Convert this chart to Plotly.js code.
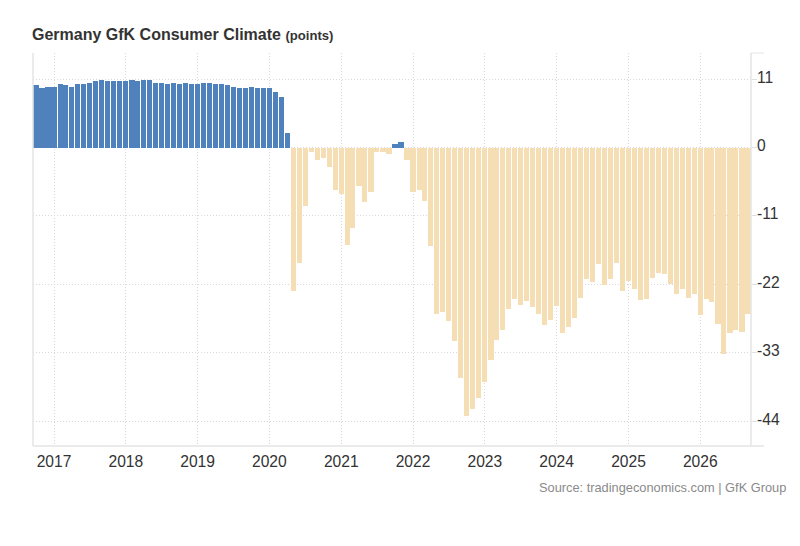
<!DOCTYPE html>
<html><head><meta charset="utf-8">
<script src="https://cdn.plot.ly/plotly-3.0.1.min.js"></script>
<style>html,body{margin:0;padding:0;background:#fff}</style></head>
<body><div id="chart" style="width:800px;height:546px"></div>
<script>
const startYear = 2016, startMonth = 10;
const values = [
10.0,9.6,9.8,9.8,10.2,10.0,9.8,10.2,10.2,10.4,10.7,10.9,
10.7,10.7,10.7,10.7,10.9,10.7,10.9,10.9,10.4,10.4,10.2,10.4,
10.2,10.4,10.2,10.2,10.4,10.4,10.2,10.2,10.0,9.8,9.6,9.6,
9.8,9.6,9.6,9.6,9.0,8.1,2.3,-23.15,-18.6,-9.4,-0.7,-2.0,
-1.7,-3.2,-6.9,-7.5,-15.6,-12.9,-6.2,-8.8,-7.1,-0.7,-0.7,-1.1,
0.5,0.9,-2.0,-7.1,-6.9,-8.6,-15.9,-26.8,-26.4,-27.9,-31.1,-37.1,
-43.1,-42.0,-40.3,-37.7,-34.1,-30.9,-29.4,-25.9,-24.4,-25.3,-24.7,-25.7,
-26.8,-28.5,-27.7,-25.5,-29.8,-28.9,-27.4,-24.2,-21.2,-21.6,-18.7,-22.1,
-21.2,-18.5,-23.1,-21.4,-22.7,-24.6,-24.4,-21.0,-20.2,-20.4,-21.9,-23.6,
-22.7,-24.2,-23.6,-27.0,-24.4,-24.9,-28.3,-33.2,-29.8,-29.4,-29.6,-26.8];
const yTicks = [11,0,-11,-22,-33,-44];
const posColor = '#4f81bd', negColor = '#f5deb3';
const titleMain = 'Germany GfK Consumer Climate', titleUnit = '(points)';
const sourceText = 'Source: tradingeconomics.com | GfK Group';

const pad = n => String(n).padStart(2,'0');
const dates = values.map((_,i)=>{
  const m = startMonth-1+i;
  return (startYear+Math.floor(m/12))+'-'+pad(m%12+1)+'-01';
});
const dayMs = 86400000;
const trace = {
  type:'bar', x:dates, y:values, width:values.map(()=>26.5*dayMs),
  marker:{color:values.map(v=>v>=0?posColor:negColor),line:{width:0}},
  hoverinfo:'x+y'
};
const layout = {
  width:800,height:546,paper_bgcolor:'#fff',plot_bgcolor:'#fff',showlegend:false,bargap:0,
  margin:{l:32.5,r:49,t:53,b:100},
  font:{family:'"Liberation Sans",Arial,sans-serif',color:'#333'},
  xaxis:{type:'date',range:['2016-09-16','2026-09-16'],tick0:'2017-01-01',dtick:'M12',tickformat:'%Y',
    ticks:'',ticklabelstandoff:4,showgrid:true,griddash:'1px,2px',gridcolor:'#d8d8d8',gridwidth:1,
    tickfont:{size:15.6,color:'#333'},showline:false,zeroline:false},
  yaxis:{side:'right',range:[-48,15.2],tickmode:'array',tickvals:yTicks,ticktext:yTicks.map(String),
    ticks:'outside',ticklen:5,tickcolor:'#e0e0e0',tickwidth:1,ticklabelstandoff:-3,
    showgrid:true,griddash:'1px,2px',gridcolor:'#d8d8d8',gridwidth:1,
    tickfont:{size:15.6,color:'#333'},showline:false,zeroline:false,automargin:false},
  annotations:[
    {xref:'paper',yref:'paper',x:(32-32.5)/718.5,y:(546-100-34)/393,xanchor:'left',yanchor:'middle',showarrow:false,borderpad:0,xshift:-2,yshift:-1,
     text:'<b>'+titleMain+'</b> <b style="font-size:13.1px">'+titleUnit+'</b>',font:{size:16,color:'#333'}},
    {xref:'paper',yref:'paper',x:(787-32.5)/718.5,y:(446-487)/393,xanchor:'right',yanchor:'middle',showarrow:false,borderpad:0,
     text:sourceText,font:{size:12.8,color:'#8a8a8a'}}
  ],
  shapes:[
    {type:'line',xref:'paper',yref:'paper',x0:0,x1:0,y0:0,y1:1,line:{color:'#e4e4e4',width:1.5}},
    {type:'line',xref:'paper',yref:'paper',x0:1,x1:1,y0:0,y1:1,line:{color:'#e4e4e4',width:1.5}},
    {type:'line',xref:'paper',yref:'paper',x0:0,x1:(764-32.5)/718.5,y0:0,y1:0,line:{color:'#e4e4e4',width:1.5}},
    {type:'line',xref:'paper',yref:'paper',x0:1,x1:(764-32.5)/718.5,y0:1,y1:1,line:{color:'#e4e4e4',width:1}}
  ]
};
Plotly.newPlot('chart',[trace],layout,{displayModeBar:false,staticPlot:true}).then(()=>{
  document.querySelectorAll('.ytick text').forEach(t=>{
    t.setAttribute('y', parseFloat(t.getAttribute('y'))-2);
  });
});
</script></body></html>
